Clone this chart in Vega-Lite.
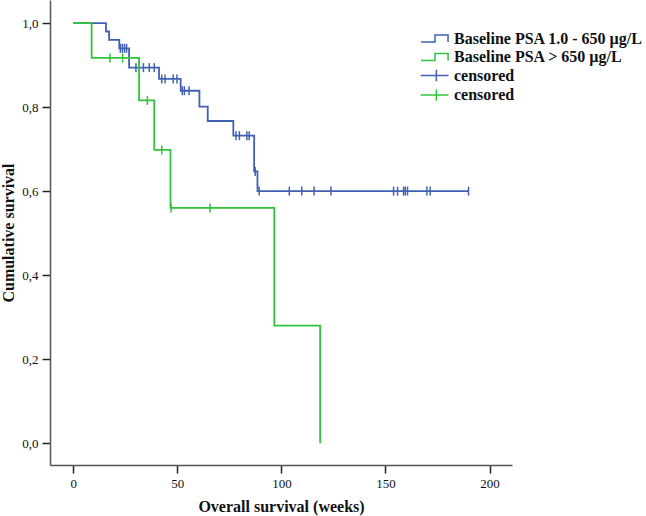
{
  "$schema": "https://vega.github.io/schema/vega-lite/v6.json",
  "autosize": {"type": "none"},
  "padding": {"left": 50, "top": 0, "right": 134, "bottom": 51},
  "width": 462,
  "height": 465,
  "background": "white",
  "config": {
    "view": {"stroke": null},
    "font": "Liberation Serif",
    "axis": {
      "grid": false,
      "labelFont": "Liberation Serif",
      "labelFontSize": 13,
      "labelColor": "#111111",
      "titleFont": "Liberation Serif",
      "titleFontSize": 16,
      "titleFontWeight": "bold",
      "titleColor": "#111111",
      "domainColor": "#555555",
      "domainWidth": 1.5,
      "tickColor": "#222222",
      "tickWidth": 1.5,
      "tickSize": 8,
      "labelPadding": 4
    },
    "legend": {
      "labelFont": "Liberation Serif",
      "labelFontSize": 16,
      "labelFontWeight": "bold",
      "labelColor": "#111111",
      "labelLimit": 400,
      "padding": 0
    }
  },
  "datasets": {
    "curve": [
      {"group": "blue", "week": 0, "surv": 1.0},
      {"group": "blue", "week": 15.7, "surv": 0.98},
      {"group": "blue", "week": 17.2, "surv": 0.96},
      {"group": "blue", "week": 22.1, "surv": 0.94},
      {"group": "blue", "week": 26.8, "surv": 0.894},
      {"group": "blue", "week": 41.2, "surv": 0.867},
      {"group": "blue", "week": 51.6, "surv": 0.839},
      {"group": "blue", "week": 60.6, "surv": 0.801},
      {"group": "blue", "week": 64.6, "surv": 0.767},
      {"group": "blue", "week": 76.9, "surv": 0.732},
      {"group": "blue", "week": 86.9, "surv": 0.647},
      {"group": "blue", "week": 88.5, "surv": 0.6},
      {"group": "blue", "week": 189.9, "surv": 0.6},
      {"group": "green", "week": 0, "surv": 1.0},
      {"group": "green", "week": 8.8, "surv": 0.917},
      {"group": "green", "week": 31.6, "surv": 0.816},
      {"group": "green", "week": 38.9, "surv": 0.698},
      {"group": "green", "week": 46.7, "surv": 0.56},
      {"group": "green", "week": 96.6, "surv": 0.28},
      {"group": "green", "week": 118.6, "surv": 0.0}
    ],
    "cens": [
      {"group": "cblue", "week": 22.6, "surv": 0.94},
      {"group": "cblue", "week": 23.6, "surv": 0.94},
      {"group": "cblue", "week": 24.6, "surv": 0.94},
      {"group": "cblue", "week": 25.6, "surv": 0.94},
      {"group": "cblue", "week": 30.1, "surv": 0.894},
      {"group": "cblue", "week": 33.7, "surv": 0.894},
      {"group": "cblue", "week": 36.5, "surv": 0.894},
      {"group": "cblue", "week": 38.9, "surv": 0.894},
      {"group": "cblue", "week": 42.5, "surv": 0.867},
      {"group": "cblue", "week": 44.1, "surv": 0.867},
      {"group": "cblue", "week": 48.0, "surv": 0.867},
      {"group": "cblue", "week": 49.8, "surv": 0.867},
      {"group": "cblue", "week": 52.4, "surv": 0.839},
      {"group": "cblue", "week": 53.4, "surv": 0.839},
      {"group": "cblue", "week": 55.6, "surv": 0.839},
      {"group": "cblue", "week": 78.2, "surv": 0.732},
      {"group": "cblue", "week": 79.8, "surv": 0.732},
      {"group": "cblue", "week": 83.4, "surv": 0.732},
      {"group": "cblue", "week": 84.5, "surv": 0.732},
      {"group": "cblue", "week": 87.4, "surv": 0.647},
      {"group": "cblue", "week": 89.3, "surv": 0.6},
      {"group": "cblue", "week": 103.8, "surv": 0.6},
      {"group": "cblue", "week": 109.8, "surv": 0.6},
      {"group": "cblue", "week": 115.7, "surv": 0.6},
      {"group": "cblue", "week": 123.8, "surv": 0.6},
      {"group": "cblue", "week": 153.9, "surv": 0.6},
      {"group": "cblue", "week": 155.8, "surv": 0.6},
      {"group": "cblue", "week": 158.7, "surv": 0.6},
      {"group": "cblue", "week": 159.5, "surv": 0.6},
      {"group": "cblue", "week": 160.6, "surv": 0.6},
      {"group": "cblue", "week": 169.9, "surv": 0.6},
      {"group": "cblue", "week": 171.5, "surv": 0.6},
      {"group": "cblue", "week": 189.9, "surv": 0.6},
      {"group": "cgreen", "week": 17.6, "surv": 0.917},
      {"group": "cgreen", "week": 23.7, "surv": 0.917},
      {"group": "cgreen", "week": 35.6, "surv": 0.816},
      {"group": "cgreen", "week": 42.5, "surv": 0.698},
      {"group": "cgreen", "week": 47.0, "surv": 0.56},
      {"group": "cgreen", "week": 65.7, "surv": 0.56}
    ],
    "leg": [
      {"group": "blue", "week": -1000, "surv": 0.5},
      {"group": "green", "week": -1000, "surv": 0.5},
      {"group": "cblue", "week": -1000, "surv": 0.5},
      {"group": "cgreen", "week": -1000, "surv": 0.5}
    ]
  },
  "encoding": {
    "x": {
      "field": "week",
      "type": "quantitative",
      "scale": {"domain": [-11.2, 210.8], "nice": false, "zero": false},
      "axis": {"values": [0, 50, 100, 150, 200], "title": "Overall survival (weeks)", "titlePadding": 8}
    },
    "y": {
      "field": "surv",
      "type": "quantitative",
      "scale": {"domain": [-0.052, 1.055], "nice": false, "zero": false},
      "axis": {
        "values": [0, 0.2, 0.4, 0.6, 0.8, 1.0],
        "labelExpr": "replace(format(datum.value, '.1f'), '.', ',')",
        "title": "Cumulative survival",
        "titlePadding": 5
      }
    },
    "color": {
      "field": "group",
      "type": "nominal",
      "scale": {
        "domain": ["blue", "green", "cblue", "cgreen"],
        "range": ["#4260b2", "#30c23c", "#4260b2", "#30c23c"]
      },
      "legend": {
        "title": null,
        "orient": "none",
        "legendX": 375,
        "legendY": 28.5,
        "symbolSize": 324,
        "symbolStrokeWidth": 1.5,
        "symbolFillColor": "transparent",
        "labelOffset": 9,
        "labelLimit": 400,
        "rowPadding": 0.5,
        "labelExpr": "datum.label == 'blue' ? 'Baseline PSA 1.0 - 650 µg/L' : datum.label == 'green' ? 'Baseline PSA > 650 µg/L' : 'censored'"
      }
    }
  },
  "layer": [
    {
      "data": {"name": "curve"},
      "mark": {"type": "line", "interpolate": "step-after", "strokeWidth": 1.8}
    },
    {
      "data": {"name": "cens"},
      "mark": {"type": "point", "shape": "M0,-1V1", "filled": false, "size": 81, "strokeWidth": 1.5, "opacity": 1}
    },
    {
      "data": {"name": "leg"},
      "mark": {"type": "point", "filled": false, "clip": true, "strokeWidth": 1.5, "opacity": 1},
      "encoding": {
        "shape": {
          "field": "group",
          "type": "nominal",
          "scale": {
            "domain": ["blue", "green", "cblue", "cgreen"],
            "range": ["M-1.55,0.4H0V-0.4H1.45V0.4", "M-1.55,0.4H0V-0.4H1.45V0.4", "M-1.6,0H1.5M0.15,-0.65V0.65", "M-1.6,0H1.5M0.15,-0.65V0.65"]
          },
          "legend": {
            "title": null,
            "orient": "none",
            "legendX": 375,
            "legendY": 28.5,
            "symbolSize": 324,
            "symbolStrokeWidth": 1.5,
            "symbolFillColor": "transparent",
            "labelOffset": 9,
            "labelLimit": 400,
            "rowPadding": 0.5,
            "labelExpr": "datum.label == 'blue' ? 'Baseline PSA 1.0 - 650 µg/L' : datum.label == 'green' ? 'Baseline PSA > 650 µg/L' : 'censored'"
          }
        }
      }
    }
  ]
}
